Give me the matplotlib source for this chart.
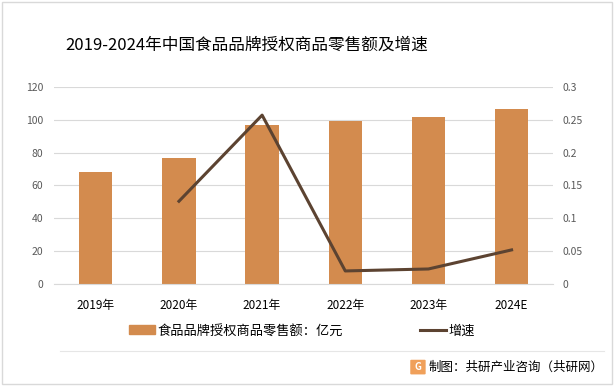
import matplotlib.pyplot as plt
import matplotlib.patches as mpatches
from matplotlib.lines import Line2D

plt.rcParams['font.family'] = ['Noto Sans CJK SC', 'DejaVu Sans']

# 数据
years = ['2019年', '2020年', '2021年', '2022年', '2023年', '2024E']
sales = [68.5, 77, 97, 99, 101.5, 106.5]
growth = [None, 0.126, 0.257, 0.020, 0.023, 0.052]

bar_color = '#D38B4E'
line_color = '#5C4331'
tick_color = '#595959'

fig = plt.figure(figsize=(6.16, 3.86), dpi=100)
fig.patch.set_facecolor('white')

# 外框
fig.add_artist(mpatches.Rectangle((0.004, 0.004), 0.99, 0.99, transform=fig.transFigure,
                                  fill=False, edgecolor='#D9D9D9', linewidth=1))

ax = fig.add_axes([0.088, 0.264, 0.810, 0.511])
x = list(range(len(years)))
ax.bar(x, sales, width=0.4, color=bar_color, zorder=2)
ax.set_ylim(0, 120)
ax.set_yticks(range(0, 121, 20))
ax.set_xlim(-0.5, len(years) - 0.5)
ax.set_xticks(x)
ax.set_xticklabels(years)
ax.grid(axis='y', color='#D9D9D9', linewidth=0.8, zorder=0)
for s in ax.spines.values():
    s.set_visible(False)
ax.spines['bottom'].set_visible(True)
ax.spines['bottom'].set_color('#D9D9D9')
ax.tick_params(axis='both', length=0, labelsize=7.5, colors=tick_color)
ax.tick_params(axis='x', pad=11, labelcolor='black', labelsize=8.5)
ax.tick_params(axis='y', pad=8)

ax2 = ax.twinx()
gx = [i for i, g in zip(x, growth) if g is not None]
gy = [g for g in growth if g is not None]
ax2.plot(gx, gy, color=line_color, linewidth=2.2, zorder=3)
ax2.set_ylim(0, 0.3)
ax2.set_yticks([0, 0.05, 0.1, 0.15, 0.2, 0.25, 0.3])
ax2.set_yticklabels(['0', '0.05', '0.1', '0.15', '0.2', '0.25', '0.3'])
for s in ax2.spines.values():
    s.set_visible(False)
ax2.tick_params(axis='y', length=0, labelsize=7.5, colors=tick_color, pad=7)

fig.text(0.401, 0.884, '2019-2024年中国食品品牌授权商品零售额及增速', ha='center', va='center',
         fontsize=12, color='black')

handles = [mpatches.Patch(color=bar_color, label='食品品牌授权商品零售额：亿元'),
           Line2D([0], [0], color=line_color, linewidth=2.2, label='增速')]
fig.legend(handles=handles, loc='center', bbox_to_anchor=(0.49, 0.143), ncol=2, frameon=False,
           fontsize=9.5, columnspacing=5.8, handlelength=2.0, handletextpad=0.2)

fig.add_artist(Line2D([0.097, 0.98], [0.091, 0.091], transform=fig.transFigure,
                      color='#E6E6E6', linewidth=0.8))
fig.text(0.98, 0.049, '制图：共研产业咨询（共研网）', ha='right', va='center', fontsize=9, color='black')
fig.add_artist(mpatches.FancyBboxPatch((0.668, 0.032), 0.021, 0.034, boxstyle='round,pad=0.002',
                                       transform=fig.transFigure, facecolor='#F0A05A', edgecolor='none'))
fig.text(0.6785, 0.049, 'G', ha='center', va='center', fontsize=7, color='white', fontweight='bold')

fig.savefig('out.png', dpi=100)
